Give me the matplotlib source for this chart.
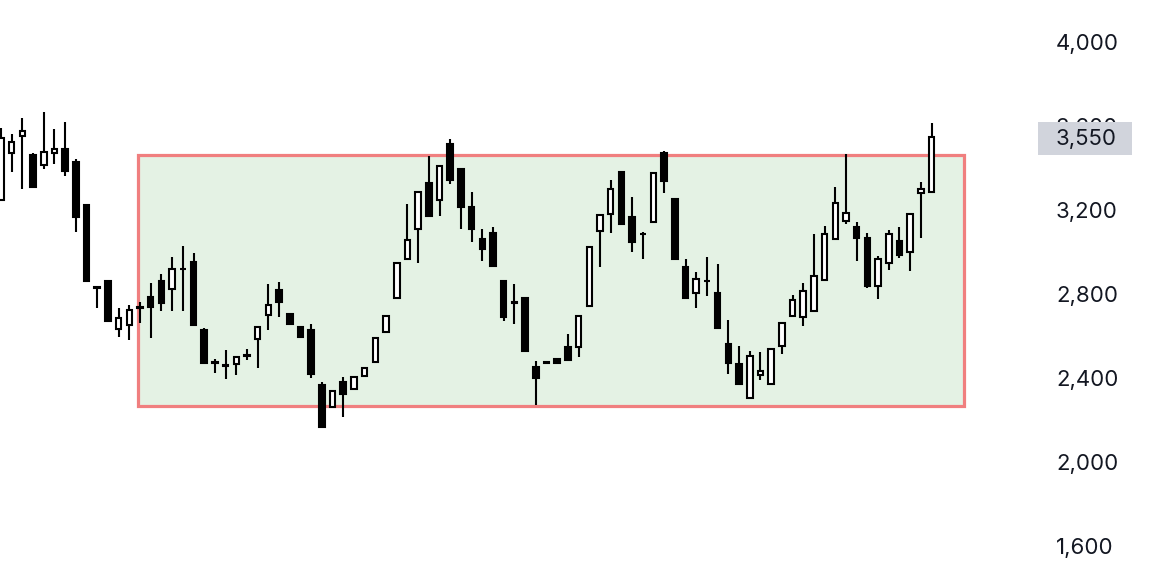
import matplotlib.pyplot as plt
from matplotlib.patches import Rectangle
from matplotlib.ticker import FuncFormatter

plt.rcParams['font.family'] = ['Inter', 'DejaVu Sans']

# daily candles
opens = [3248, 3470, 3554, 3462, 3414, 3470, 3490, 3427, 3224, 2832,
         2862, 2633, 2652, 2737, 2787, 2862, 2822, 2921, 2951, 2629,
         2475, 2461, 2467, 2511, 2586, 2700, 2819, 2703, 2644, 2629,
         2367, 2263, 2382, 2348, 2410, 2475, 2618, 2780, 2965, 3110,
         3327, 3248, 3514, 3394, 3213, 3062, 3089, 2863, 2761, 2783,
         2451, 2475, 2489, 2546, 2546, 2744, 3101, 3181, 3380, 3165,
         3088, 3145, 3473, 3251, 2927, 2803, 2864, 2803, 2560, 2465,
         2306, 2414, 2370, 2552, 2695, 2689, 2719, 2867, 3060, 3148,
         3121, 3065, 2838, 2949, 3052, 3001, 3279, 3287]
highs = [3590, 3560, 3640, 3473, 3665, 3586, 3618, 3443, 3224, 2835,
         2862, 2735, 2748, 2760, 2851, 2895, 2975, 3029, 2997, 2637,
         2489, 2533, 2498, 2537, 2644, 2848, 2859, 2703, 2644, 2657,
         2382, 2339, 2406, 2406, 2449, 2592, 2697, 2946, 3229, 3287,
         3457, 3411, 3537, 3394, 3284, 3108, 3121, 2863, 2846, 2783,
         2482, 2475, 2489, 2610, 2697, 3022, 3176, 3343, 3380, 3260,
         3094, 3375, 3480, 3251, 2967, 2906, 2975, 2941, 2676, 2552,
         2530, 2525, 2538, 2664, 2795, 2851, 3084, 3124, 3308, 3465,
         3145, 3089, 2982, 3105, 3118, 3181, 3335, 3613]
lows = [3248, 3382, 3299, 3305, 3395, 3418, 3363, 3097, 2863, 2735,
        2673, 2594, 2581, 2660, 2589, 2720, 2720, 2720, 2652, 2473,
        2425, 2394, 2414, 2486, 2446, 2629, 2692, 2656, 2597, 2399,
        2168, 2263, 2216, 2348, 2410, 2475, 2618, 2780, 2965, 2946,
        3173, 3173, 3322, 3108, 3046, 2957, 2935, 2671, 2656, 2529,
        2271, 2471, 2473, 2486, 2498, 2744, 2930, 3089, 3133, 3001,
        2965, 3145, 3280, 2965, 2780, 2732, 2790, 2637, 2418, 2370,
        2306, 2390, 2370, 2513, 2695, 2648, 2719, 2867, 3060, 3132,
        2957, 2830, 2776, 2914, 2973, 2910, 3068, 3287]
closes = [3543, 3522, 3576, 3308, 3478, 3490, 3387, 3168, 2863, 2827,
          2673, 2687, 2725, 2733, 2740, 2759, 2918, 2917, 2652, 2473,
          2471, 2457, 2498, 2507, 2644, 2748, 2760, 2656, 2597, 2419,
          2168, 2339, 2324, 2406, 2449, 2592, 2697, 2946, 3057, 3287,
          3173, 3411, 3343, 3213, 3108, 3014, 2935, 2692, 2757, 2529,
          2399, 2471, 2473, 2486, 2697, 3022, 3176, 3300, 3133, 3046,
          3084, 3375, 3340, 2965, 2780, 2870, 2860, 2637, 2473, 2370,
          2506, 2435, 2538, 2664, 2771, 2816, 2887, 3086, 3232, 3187,
          3065, 2840, 2965, 3084, 2986, 3181, 3298, 3550]

last_price = 3550
price_ticks = [1600, 2000, 2400, 2800, 3200, 3600, 4000]

# trading range box
zone_start, zone_end = 12.8, 90.0
zone_low, zone_high = 2267, 3462

fig = plt.figure(figsize=(11.64, 5.86), dpi=100)
ax = fig.add_axes([0, 0, 1030 / 1164, 1])

x = list(range(len(opens)))
bottoms = [min(o, c) for o, c in zip(opens, closes)]
heights = [max(abs(c - o), 1) for o, c in zip(opens, closes)]
colors = ['white' if c >= o else 'black' for o, c in zip(opens, closes)]

ax.add_patch(Rectangle((zone_start, zone_low), zone_end - zone_start, zone_high - zone_low,
                       facecolor='#e4f2e4', edgecolor='#f07f7f', linewidth=2.3, zorder=1))
ax.vlines(x, lows, highs, color='black', linewidth=1.5, zorder=2)
ax.bar(x, heights, bottom=bottoms, width=0.52, color=colors,
       edgecolor='black', linewidth=1.5, zorder=3)

ax.set_xlim(-0.09, 96.2)
ax.set_ylim(1410, 4200)
for s in ax.spines.values():
    s.set_visible(False)
ax.set_xticks([])
ax.yaxis.tick_right()
ax.set_yticks(price_ticks)
ax.yaxis.set_major_formatter(FuncFormatter(lambda v, p: f'{v:,.0f}'))
ax.tick_params(axis='y', length=0, pad=18.7, labelsize=16, labelcolor='#131722')

# last price label
ax.add_patch(Rectangle((1.0078, last_price - 89), 0.0913, 157, transform=ax.get_yaxis_transform(),
                       facecolor='#d1d4dc', edgecolor='none', clip_on=False, zorder=5))
ax.text(1.0252, last_price - 10, f'{last_price:,}', transform=ax.get_yaxis_transform(),
        ha='left', va='center', fontsize=16, color='#131722', zorder=6, clip_on=False)

fig.savefig('out.png', dpi=100, facecolor='white')
